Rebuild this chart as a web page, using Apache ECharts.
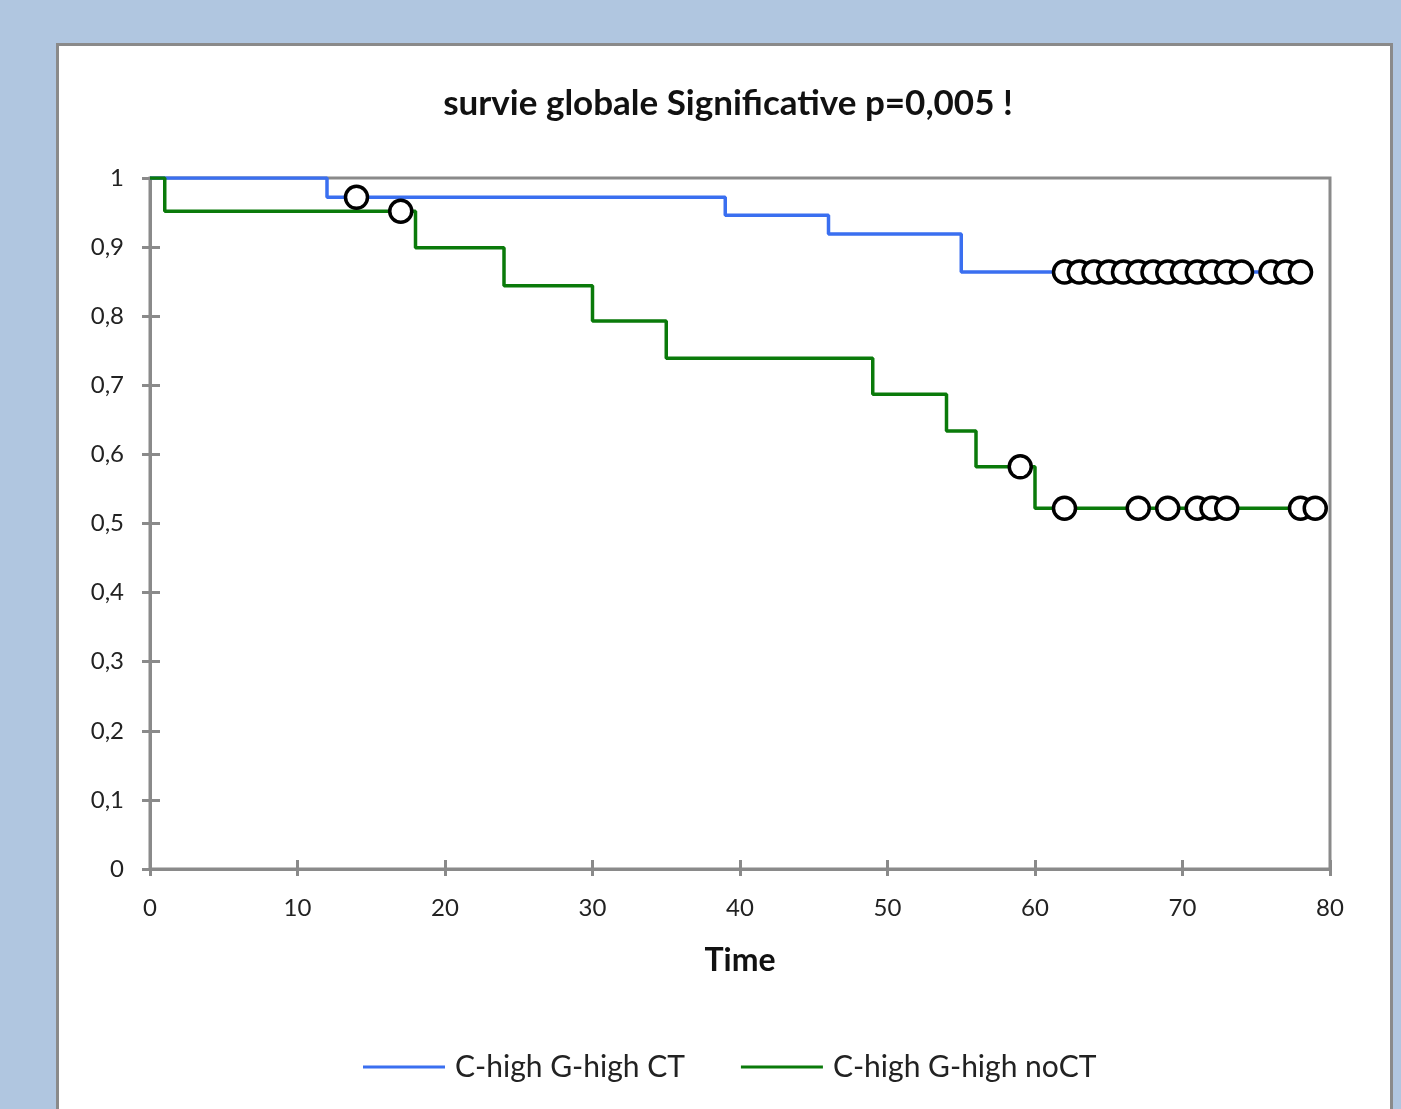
<!DOCTYPE html>
<html>
<head>
<meta charset="utf-8">
<script src="https://cdn.jsdelivr.net/npm/echarts@6/dist/echarts.min.js"></script>
<style>
  html, body { margin: 0; padding: 0; background: #b0c6e0; }
  #panel {
    position: absolute; left: 56px; top: 43px; width: 1331px; height: 1100px;
    background: #fff; border: 3px solid #8a8a8a;
  }
  #chart { position: absolute; left: 0; top: 0; width: 1401px; height: 1109px; }
</style>
</head>
<body>
<div id="panel"></div>
<div id="chart"></div>
<script>
  // Kaplan-Meier steps (time, survival)
  let ctTimes = [0, 12, 39, 46, 55, 78];
  let ctSurv = [1, 0.972, 0.946, 0.919, 0.864, 0.864];
  let ctCensor = [14, 62, 63, 64, 65, 66, 67, 68, 69, 70, 71, 72, 73, 74, 76, 77, 78];

  let noctTimes = [0, 1, 18, 24, 30, 35, 49, 54, 56, 60, 79];
  let noctSurv = [1, 0.952, 0.899, 0.844, 0.793, 0.739, 0.687, 0.634, 0.582, 0.522, 0.522];
  let noctCensor = [17, 59, 62, 67, 69, 71, 72, 73, 78, 79];

  let names = ['C-high G-high CT', 'C-high G-high noCT'];
  let colors = ['#3a6ff0', '#0a7a0a'];

  function survAt(times, surv, t) {
    let s = surv[0];
    for (let i = 0; i < times.length; i++) {
      if (times[i] <= t) s = surv[i];
    }
    return s;
  }

  let chartDom = document.getElementById('chart');
  let myChart = echarts.init(chartDom);
  let font = 'Lato, "DejaVu Sans", sans-serif';
  let axisGray = '#8a8a8a';

  let option = {
    animation: false,
    textStyle: { fontFamily: font },
    title: {
      text: 'survie globale Significative p=0,005 !',
      left: 723, top: 81, textAlign: 'center',
      textStyle: { fontFamily: font, fontWeight: 'bold', fontSize: 35, color: '#111' }
    },
    legend: {
      data: names,
      left: 363, top: 1052, padding: 0,
      icon: 'rect', itemWidth: 82, itemHeight: 3, itemGap: 56,
      textStyle: { fontFamily: font, fontSize: 30, color: '#222', padding: [0, 0, 0, 5] }
    },
    grid: { left: 150, top: 178, right: 71, bottom: 240, show: true, borderColor: axisGray, borderWidth: 3 },
    xAxis: [{
      type: 'value', min: 0, max: 80, interval: 10,
      name: 'Time', nameLocation: 'middle', nameGap: 76,
      nameTextStyle: { fontFamily: font, fontWeight: 'bold', fontSize: 32, color: '#111' },
      axisLine: { show: true, onZero: false, lineStyle: { color: axisGray, width: 3 } },
      axisTick: { show: true, length: 7, lineStyle: { color: axisGray, width: 3 } },
      axisLabel: { fontFamily: font, fontSize: 24, color: '#222', margin: 27 },
      splitLine: { show: false }
    }, {
      type: 'value', min: 0, max: 80, interval: 10, position: 'bottom',
      axisLine: { show: false },
      axisTick: { show: true, inside: true, length: 9, lineStyle: { color: axisGray, width: 3 } },
      axisLabel: { show: false }, splitLine: { show: false }
    }],
    yAxis: [{
      type: 'value', min: 0, max: 1, interval: 0.1,
      axisLine: { show: true, onZero: false, lineStyle: { color: axisGray, width: 3 } },
      axisTick: { show: true, length: 8, lineStyle: { color: axisGray, width: 3 } },
      axisLabel: {
        fontFamily: font, fontSize: 24, color: '#222', margin: 26,
        formatter: function (v) { return String(Math.round(v * 10) / 10).replace('.', ','); }
      },
      splitLine: { show: false }
    }, {
      type: 'value', min: 0, max: 1, interval: 0.1, position: 'left',
      axisLine: { show: false },
      axisTick: { show: true, inside: true, length: 10, lineStyle: { color: axisGray, width: 3 } },
      axisLabel: { show: false }, splitLine: { show: false }
    }],
    series: []
  };

  let stepTimes = [ctTimes, noctTimes];
  let stepSurv = [ctSurv, noctSurv];
  let censors = [ctCensor, noctCensor];

  for (let k = 0; k < names.length; k++) {
    option.series.push({
      name: names[k], type: 'line', step: 'end', symbol: 'none',
      data: stepTimes[k].map(function (t, i) { return [t, stepSurv[k][i]]; }),
      lineStyle: { color: colors[k], width: 3.5 },
      itemStyle: { color: colors[k] },
      z: 2 + k
    });
  }
  for (let k = 0; k < names.length; k++) {
    option.series.push({
      name: names[k] + ' censored', type: 'scatter', symbol: 'circle', symbolSize: 22,
      data: censors[k].map(function (t) { return [t, survAt(stepTimes[k], stepSurv[k], t)]; }),
      itemStyle: { color: '#fff', borderColor: '#000', borderWidth: 3.5, opacity: 1 },
      z: 5
    });
  }

  option && myChart.setOption(option);
</script>
</body>
</html>
